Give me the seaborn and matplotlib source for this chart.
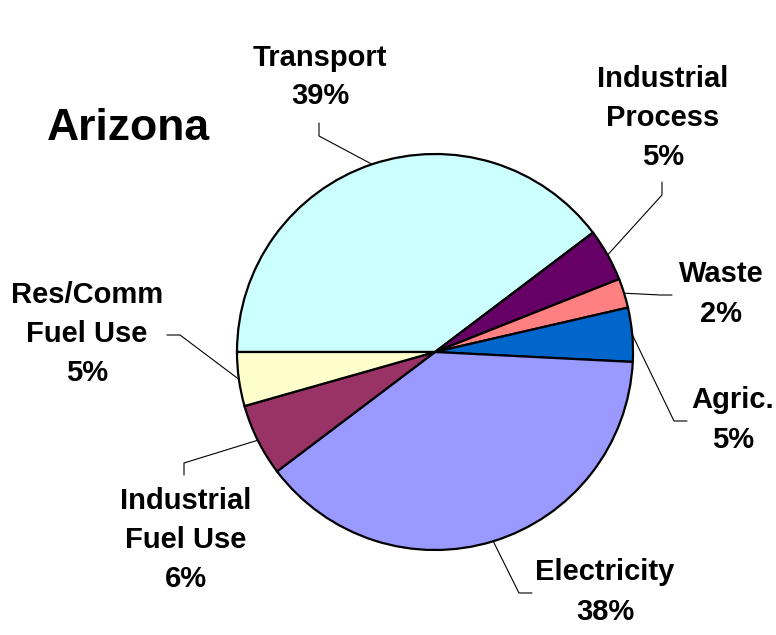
import numpy as np
import matplotlib
matplotlib.use("Agg")
import matplotlib.pyplot as plt
import seaborn as sns

# shares (clockwise from 9 o'clock)
sectors = ["Transport", "Industrial\nProcess", "Waste", "Agric.", "Electricity",
           "Industrial\nFuel Use", "Res/Comm\nFuel Use"]
shares = [39.7, 4.3, 2.4, 4.4, 38.9, 5.9, 4.4]
pct_labels = ["39%", "5%", "2%", "5%", "38%", "6%", "5%"]
colors = ["#CCFFFF", "#660066", "#FF8080", "#0066CC", "#9999FF", "#993366", "#FFFFCC"]

sns.set_theme(style="white")
plt.rcParams["font.family"] = ["Liberation Sans", "DejaVu Sans"]

W, H = 776, 635
CX, CY, R = 435, 352, 198


def px(x, y):
    # pixel position -> data units (pie radius = 1)
    return (x - CX) / R, (CY - y) / R


fig = plt.figure(figsize=(W / 100, H / 100), dpi=100)
ax = fig.add_axes([0, 0, 1, 1])

wedges, _ = ax.pie(shares, colors=colors, startangle=180, counterclock=False,
                   wedgeprops=dict(edgecolor="black", linewidth=1.6))
ax.set_aspect("auto")
x0, y0 = px(0, H)
x1, y1 = px(W, 0)
ax.set_xlim(x0, x1)
ax.set_ylim(y0, y1)
ax.axis("off")

# label block centre, leader elbow, leader end (pixels)
label_pos = [(320, 77), (663, 118), (721, 294), (733, 420), (605, 592), (186, 540), (87, 334)]
elbows = [(319, 136), (662, 195), (660, 295), (674, 421), (519, 593), (184, 463), (180, 335)]
ends = [(319, 123), (662, 182), (672, 295), (687, 421), (532, 593), (184, 475), (167, 335)]

for w, name, pct, lp, el, en in zip(wedges, sectors, pct_labels, label_pos, elbows, ends):
    mid = np.deg2rad((w.theta1 + w.theta2) / 2)
    ax_, ay_ = np.cos(mid), np.sin(mid)
    ex, ey = px(*el)
    nx, ny = px(*en)
    ax.plot([ax_, ex, nx], [ay_, ey, ny], color="black", lw=0.8, zorder=0)
    tx, ty = px(*lp)
    ax.text(tx, ty, f"{name}\n{pct}", ha="center", va="center", fontsize=21,
            fontweight="bold", linespacing=1.5, color="black")

tx, ty = px(128, 128)
ax.text(tx, ty, "Arizona", ha="center", va="center", fontsize=32,
        fontweight="bold", color="black")

fig.savefig("out.png", dpi=100)
